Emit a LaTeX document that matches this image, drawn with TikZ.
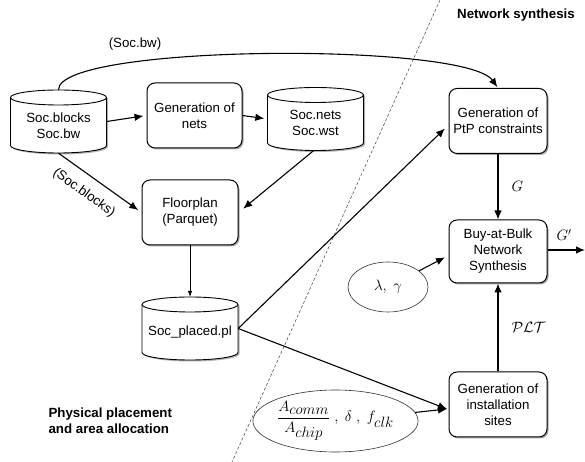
\RequirePackage{fix-cm}
\documentclass[tikz,border=0pt]{standalone}
\usepackage{amsmath}
\usepackage{fontspec}
\setmainfont{Liberation Sans}
\usetikzlibrary{arrows.meta,shadows,calc,shapes.geometric}

\newcommand\cylnode[4]{%
  \begin{scope}[shift={(#2,#3)}]
    \fill[black,opacity=0.3] (-46.5,22.5) -- (-46.5,-25.5) arc[start angle=180,end angle=360,x radius=48,y radius=7.5] -- (49.5,22.5) arc[start angle=0,end angle=180,x radius=48,y radius=7.5] -- cycle;
    \draw[line width=0.9pt,fill=white] (-48,24) -- (-48,-24) arc[start angle=180,end angle=360,x radius=48,y radius=7.5] -- (48,24) arc[start angle=0,end angle=180,x radius=48,y radius=7.5] -- cycle;
    \draw[line width=0.9pt] (-48,24) arc[start angle=180,end angle=360,x radius=48,y radius=7.5];
  \end{scope}
  \node[cylbox] (#1) at (#2,#3) {};
  \node[align=center] (#1t) at (#2,#3-4) {#4};
}

\begin{document}
\begin{tikzpicture}[x=1pt,y=1pt,font={\fontsize{13.3}{16}\selectfont},
  proc/.style={draw,line width=1pt,rounded corners=8pt,fill=white,minimum width=98pt,minimum height=65pt,align=center,inner sep=2pt,
    drop shadow={shadow xshift=1.5pt,shadow yshift=-1.5pt,opacity=0.35,fill=black}},
  cylbox/.style={draw=none,minimum width=96pt,minimum height=63pt,inner sep=0pt},
  ell/.style={ellipse,draw,line width=0.6pt,draw=black!80,inner sep=0pt,font={\fontsize{15}{18}\selectfont}},
  arr/.style={line width=1.1pt,-{Latex[length=9pt,width=7.5pt]},shorten >=3pt},
  thinarr/.style={line width=0.6pt,-{Latex[length=6pt,width=4.5pt]}},
  lbl/.style={inner sep=1pt},
  mlbl/.style={inner sep=1pt,font={\fontsize{15}{18}\selectfont}},
  title/.style={font={\fontsize{13.3}{16}\selectfont\bfseries},align=left}]

\useasboundingbox (0,0) rectangle (585,462);

% dashed separator
\coordinate (dtop) at (440,462);
\coordinate (dbot) at (232,0);
\draw[line width=0.5pt,black!75,dash pattern=on 3pt off 2pt] (dtop) -- (dbot);

% nodes
\cylnode{cyla}{58.5}{340.5}{Soc.blocks\\Soc.bw}
\node[proc,minimum width=95pt] (nets) at (194.5,346.5) {Generation of\\nets};
\cylnode{cylb}{315.5}{343}{Soc.nets\\Soc.wst}
\node[proc,minimum width=96pt] (floor) at (190,249.5) {Floorplan\\(Parquet)};
\cylnode{cylc}{190}{133.5}{Soc\_placed.pl}

\node[proc] (ptp) at (498,341) {Generation of\\PtP constraints};
\node[proc,minimum height=63pt] (bab) at (498,210.5) {Buy-at-Bulk\\Network\\Synthesis};
\node[proc] (inst) at (498,57.5) {Generation of\\installation\\sites};

\node[ell,minimum width=80pt,minimum height=50pt] (lg) at (388,175) {$\lambda,\ \gamma$};
\node[ell,minimum width=137pt,minimum height=62pt] (frac) at (335.5,41) {$\dfrac{A_{\textstyle comm}}{A_{\textstyle chip}}\ ,\ \delta\ ,\ f_{\textstyle clk}$};

\node[title] (ns) at (516,447) {Network synthesis};
\node[title,anchor=west] (pp) at (45,41) {Physical placement\\and area allocation};

% connectors
\draw[arr] (cyla.east) -- (nets.west);
\draw[arr] (nets.east) -- (cylb.west);
\draw[arr,shorten >=4pt] (cyla.south) -- (floor.west);
\node[lbl,rotate=-36] (sblk) at (84,269) {(Soc.blocks)};
\draw[arr,shorten >=6pt] ([xshift=-2pt]cylb.south) -- (floor.east);
\draw[thinarr] (floor.south) -- (cylc.north);
\draw[arr,shorten >=5pt] (cylc.east) -- ([yshift=-4pt]ptp.west);
\coordinate (instin) at (447,53);
\draw[arr,shorten >=0pt] (cylc.east) -- (instin);
\draw[arr,shorten >=0pt] (frac) -- (instin);
\draw[arr,shorten >=4pt] (lg) -- ([yshift=-4pt]bab.west);
\draw[arr,shorten >=0pt] (ptp.south) -- node[mlbl,right,xshift=12pt] {$G$} (bab.north);
\draw[arr,shorten >=0pt] (inst.north) -- node[mlbl,right,xshift=12pt] {$\mathcal{PLT}$} (bab.south);
\coordinate (out) at (585,212);
\draw[arr,shorten >=0pt] ([yshift=1.5pt]bab.east) -- (out);
\node[mlbl] (gp) at (564,227) {$G'$};
\draw[arr,shorten >=1pt] (cyla.north) .. controls (58,418) and (465,420) .. (ptp.north);
\node[lbl] (sbw) at (135,418) {(Soc.bw)};

\end{tikzpicture}
\end{document}
